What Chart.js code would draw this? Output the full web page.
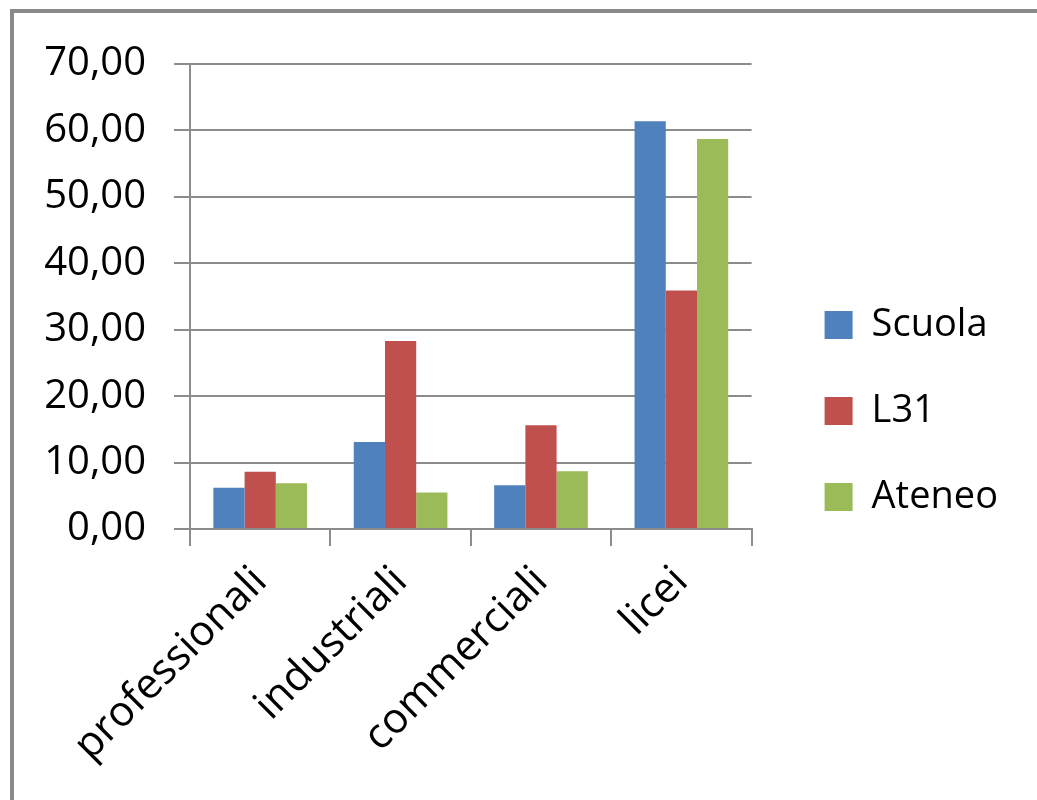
<!DOCTYPE html>
<html>
<head>
<meta charset="utf-8">
<script src="https://cdn.jsdelivr.net/npm/chart.js@4/dist/chart.umd.min.js"></script>
<style>
    html, body {
        margin: 0;
        padding: 0;
        background: #fff;
        overflow: hidden;
    }
    #frame {
        position: absolute;
        left: 10px;
        top: 9px;
        width: 2000px;
        height: 2000px;
        border-top: 4px solid #8a8a8a;
        border-left: 4px solid #8a8a8a;
    }
    #wrap {
        position: absolute;
        left: 0;
        top: 0;
        width: 1037px;
        height: 800px;
    }
</style>
</head>
<body>
<div id="frame"></div>
<div id="wrap"><canvas id="myChart" width="1037" height="800"></canvas></div>
<script>
// school origin chart

const categories = ['professionali', 'industriali', 'commerciali', 'licei']
const scuola = [6.2, 13.1, 6.6, 61.4]
const l31 = [8.6, 28.3, 15.6, 35.9]
const ateneo = [6.9, 5.5, 8.7, 58.7]
const seriesNames = ['Scuola', 'L31', 'Ateneo']
const yTicks = [0, 10, 20, 30, 40, 50, 60, 70]

const gridColor = '#8c8c8c'
const fontFamily = "'Open Sans', sans-serif"

function formatTick(v) {
    return Number(v).toFixed(2).replace('.', ',')
}

// let the rotated labels use the space down to the canvas edge
const labelRoom = {
    id: 'labelRoom',
    afterLayout(chart) {
        chart.scales.x.bottom = chart.height
    }
}

function drawChart() {
    const ctx = document.getElementById('myChart')

    const myChart = new Chart(ctx, {
        type: 'bar',
        data: {
            labels: categories,
            datasets: [{
                label: seriesNames[0],
                data: scuola,
                backgroundColor: '#4f81bd',
            }, {
                label: seriesNames[1],
                data: l31,
                backgroundColor: '#c0504d',
            }, {
                label: seriesNames[2],
                data: ateneo,
                backgroundColor: '#9bbb59',
            }]
        },
        plugins: [labelRoom],
        options: {
            responsive: false,
            animation: false,
            devicePixelRatio: 1,
            categoryPercentage: 0.667,
            barPercentage: 1,
            layout: {
                padding: { left: 40, top: 64, right: 29, bottom: 42 }
            },
            scales: {
                x: {
                    offset: true,
                    grid: {
                        display: true,
                        offset: true,
                        drawOnChartArea: false,
                        drawTicks: true,
                        tickLength: 17,
                        color: gridColor,
                        lineWidth: 2,
                    },
                    border: { display: true, color: gridColor, width: 2 },
                    ticks: {
                        minRotation: 45,
                        maxRotation: 45,
                        padding: 11,
                        color: '#000',
                        font: { family: fontFamily, size: 42 },
                    },
                    afterFit: function(scale) {
                        scale.height = 229
                    },
                },
                y: {
                    min: 0,
                    max: 70,
                    afterBuildTicks: function(scale) {
                        scale.ticks = yTicks.map(v => ({ value: v }))
                    },
                    grid: {
                        color: gridColor,
                        lineWidth: 2,
                        tickLength: 16,
                    },
                    border: { display: true, color: gridColor, width: 2 },
                    ticks: {
                        padding: 28,
                        color: '#000',
                        font: { family: fontFamily, size: 40 },
                        callback: v => formatTick(v),
                    },
                    afterFit: function(scale) {
                        scale.width = 150
                    },
                },
                // empty axis, only keeps a gap before the legend
                gap: {
                    type: 'linear',
                    position: 'right',
                    display: true,
                    grid: { display: false },
                    border: { display: false },
                    ticks: { display: false },
                    afterFit: function(scale) {
                        scale.width = 25
                    },
                },
            },
            plugins: {
                legend: {
                    display: true,
                    position: 'right',
                    maxWidth: 400,
                    labels: {
                        color: '#000',
                        boxWidth: 28,
                        boxHeight: 28,
                        padding: 48,
                        font: { family: fontFamily, size: 38 },
                    },
                },
                tooltip: { enabled: false },
            },
        }
    })
}

drawChart()
</script>
</body>
</html>
